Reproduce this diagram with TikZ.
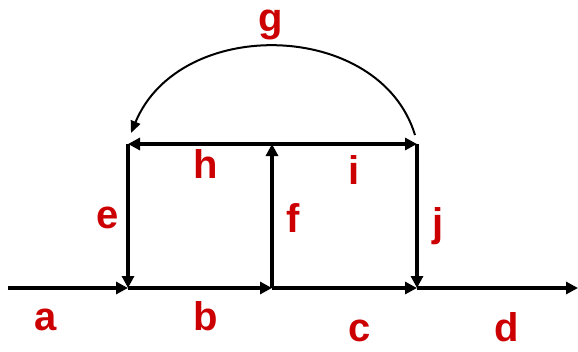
\documentclass[tikz,border=0pt]{standalone}
\usepackage{fontspec}
\setmainfont{Liberation Sans}
\usetikzlibrary{arrows.meta}
\definecolor{lblred}{RGB}{204,0,0}
\tikzset{
  edge/.style={line width=3.5pt,-{Triangle[length=12pt,width=12pt]}},
  arcedge/.style={line width=2pt,-{Triangle[length=12pt,width=10pt]}},
  lbl/.style={text=lblred,font=\bfseries\fontsize{40}{40}\selectfont,inner sep=0pt}
}
\begin{document}
\begin{tikzpicture}[x=1pt,y=-1pt]
\useasboundingbox (0,0) rectangle (578,351);
\coordinate (s) at (8,288);
\coordinate (n1) at (128,288);
\coordinate (n2) at (272,288);
\coordinate (n3) at (417,288);
\coordinate (t) at (578,288);
\coordinate (m1) at (128,144);
\coordinate (m2) at (272,144);
\coordinate (m3) at (417,144);
\coordinate (g1) at (415,135);
\coordinate (g2) at (131,133);
\draw[edge] (s) -- (n1);
\draw[edge] (n1) -- (n2);
\draw[edge] (n2) -- (n3);
\draw[edge] (n3) -- (t);
\draw[edge] (m1) -- (n1);
\draw[edge] (n2) -- (m2);
\draw[edge] (m3) -- (n3);
\draw[edge] (m2) -- (m1);
\draw[edge] (m2) -- (m3);
\draw[arcedge] (g1) .. controls (380,20) and (180,15) .. (g2);
\node[lbl] (la) at (46,320) {a};
\node[lbl] (lb) at (206,316) {b};
\node[lbl] (lc) at (360,331) {c};
\node[lbl] (ld) at (507,327) {d};
\node[lbl] (le) at (108,218) {e};
\node[lbl] (lf) at (293,218) {f};
\node[lbl] (lg) at (271,25) {g};
\node[lbl] (lh) at (206,164) {h};
\node[lbl] (li) at (354,170) {i};
\node[lbl] (lj) at (438,226) {j};
\end{tikzpicture}
\end{document}
